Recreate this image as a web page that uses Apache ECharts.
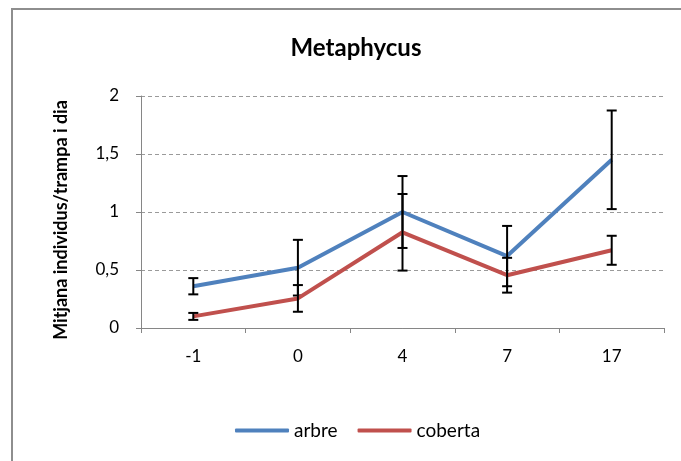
<!DOCTYPE html>
<html>
<head>
<meta charset="utf-8">
<script src="https://cdn.jsdelivr.net/npm/echarts@6/dist/echarts.min.js"></script>
<style>
  html, body { margin: 0; padding: 0; background: #fff; }
  #chart { width: 681px; height: 461px; }
</style>
</head>
<body>
<div id="chart"></div>
<script>
// Days relative to treatment
const categories = ['-1', '0', '4', '7', '17'];

// Mean individuals per trap per day
const arbre = [0.36, 0.52, 1.0, 0.62, 1.45];
const coberta = [0.10, 0.255, 0.825, 0.455, 0.67];

// Error bar half-widths
const arbreErr = [0.07, 0.24, 0.31, 0.26, 0.425];
const cobertaErr = [0.03, 0.115, 0.33, 0.15, 0.125];

const yTicks = [0, 0.5, 1, 1.5, 2];

const FONT = 'Lato, "Open Sans", sans-serif';

function errData(vals, errs) {
  return vals.map((v, i) => [i, v - errs[i], v + errs[i]]);
}

function renderErr(params, api) {
  const x = api.value(0);
  const lo = api.coord([x, api.value(1)]);
  const hi = api.coord([x, api.value(2)]);
  const half = 5;
  const style = { stroke: '#000', lineWidth: 2 };
  return {
    type: 'group',
    children: [
      { type: 'line', shape: { x1: hi[0], y1: hi[1], x2: lo[0], y2: lo[1] }, style },
      { type: 'line', shape: { x1: hi[0] - half, y1: hi[1], x2: hi[0] + half, y2: hi[1] }, style },
      { type: 'line', shape: { x1: lo[0] - half, y1: lo[1], x2: lo[0] + half, y2: lo[1] }, style }
    ]
  };
}

const chart = echarts.init(document.getElementById('chart'), null, { renderer: 'canvas' });

chart.setOption({
  backgroundColor: '#fff',
  animation: false,
  textStyle: { fontFamily: FONT },
  graphic: [{
    type: 'rect',
    shape: { x: 12, y: 9, width: 700, height: 480 },
    style: { fill: 'none', stroke: '#8e8e8e', lineWidth: 2 },
    silent: true
  }],
  title: {
    text: 'Metaphycus',
    left: 351,
    top: 31,
    textAlign: 'center',
    textStyle: { fontFamily: FONT, fontSize: 24, fontWeight: 'bold', color: '#000' }
  },
  legend: {
    data: ['arbre', 'coberta'],
    left: 230,
    top: 416,
    itemWidth: 54,
    itemHeight: 4,
    itemGap: 20,
    icon: 'roundRect',
    textStyle: { fontFamily: FONT, fontSize: 19, color: '#000', padding: [0, 0, 0, 0] }
  },
  grid: { left: 141, right: 17, top: 96, bottom: 133, containLabel: false },
  xAxis: {
    type: 'category',
    data: categories,
    boundaryGap: true,
    axisLine: { lineStyle: { color: '#868686', width: 1 } },
    axisTick: { show: true, alignWithLabel: false, length: 5, lineStyle: { color: '#868686' } },
    axisLabel: { margin: 20, fontFamily: FONT, fontSize: 17, color: '#000' },
    splitLine: { show: false }
  },
  yAxis: {
    type: 'value',
    min: 0,
    max: 2,
    interval: 0.5,
    name: 'Mitjana individus/trampa i dia',
    nameLocation: 'middle',
    nameGap: 71,
    nameRotate: 90,
    nameTextStyle: { fontFamily: FONT, fontSize: 18, fontWeight: 'bold', color: '#000', padding: [0, 16, 0, 0] },
    axisLine: { show: true, lineStyle: { color: '#868686', width: 1 } },
    axisTick: { show: true, length: 5, lineStyle: { color: '#868686' } },
    axisLabel: {
      margin: 22,
      fontFamily: FONT,
      fontSize: 17,
      color: '#000',
      formatter: v => yTicks.includes(v) ? String(v).replace('.', ',') : ''
    },
    splitLine: { show: true, lineStyle: { color: '#9a9a9a', type: [4, 3], width: 1 } }
  },
  series: [
    {
      name: 'arbre',
      type: 'line',
      data: arbre,
      symbol: 'none',
      z: 2,
      lineStyle: { color: '#4F81BD', width: 4 },
      itemStyle: { color: '#4F81BD' }
    },
    {
      name: 'arbre-err',
      type: 'custom',
      data: errData(arbre, arbreErr),
      renderItem: renderErr,
      z: 3,
      silent: true
    },
    {
      name: 'coberta',
      type: 'line',
      data: coberta,
      symbol: 'none',
      z: 4,
      lineStyle: { color: '#C0504D', width: 4 },
      itemStyle: { color: '#C0504D' }
    },
    {
      name: 'coberta-err',
      type: 'custom',
      data: errData(coberta, cobertaErr),
      renderItem: renderErr,
      z: 5,
      silent: true
    }
  ]
});
</script>
</body>
</html>
